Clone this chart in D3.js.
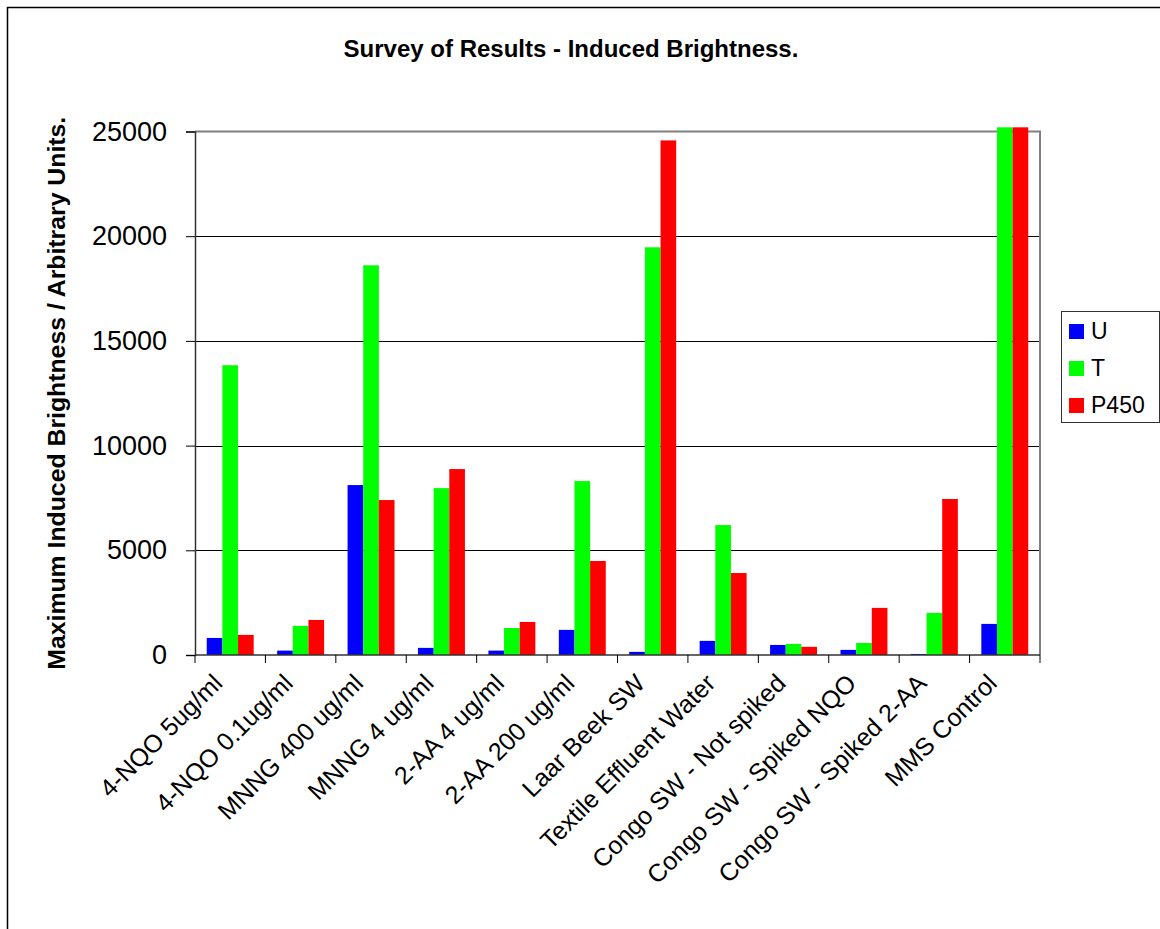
<!DOCTYPE html>
<html>
<head>
<meta charset="utf-8">
<script src="https://cdn.jsdelivr.net/npm/d3@7"></script>
<style>
  html, body { margin: 0; padding: 0; background: #fff; }
  svg { display: block; }
  text { font-family: "Liberation Sans", Arial, sans-serif; fill: #000; }
</style>
</head>
<body>
<svg id="chart" width="1160" height="929"></svg>
<script>
// Categories (samples) and series values
const categories = [
  "4-NQO 5ug/ml", "4-NQO 0.1ug/ml", "MNNG 400 ug/ml", "MNNG 4 ug/ml",
  "2-AA 4 ug/ml", "2-AA 200 ug/ml", "Laar Beek SW", "Textile Effluent Water",
  "Congo SW - Not spiked", "Congo SW - Spiked NQO", "Congo SW - Spiked 2-AA", "MMS Control"
];
const seriesNames = ["U", "T", "P450"];
const seriesColors = ["#0000FF", "#00FF00", "#FF0000"];
const valuesU    = [815, 210, 8115, 340, 210, 1200, 150, 675, 480, 245, 50, 1485];
const valuesT    = [13840, 1390, 18610, 7970, 1290, 8305, 19470, 6205, 530, 575, 2010, 25200];
const valuesP450 = [960, 1675, 7400, 8880, 1580, 4490, 24575, 3915, 390, 2250, 7450, 25200];
const yTicks = [0, 5000, 10000, 15000, 20000, 25000];

const titleText = "Survey of Results - Induced Brightness.";
const yTitleText = "Maximum Induced Brightness / Arbitrary Units.";

const seriesValues = [valuesU, valuesT, valuesP450];
const rows = categories.map((c, i) => ({
  category: c,
  values: seriesNames.map((s, j) => ({ series: s, value: seriesValues[j][i], color: seriesColors[j] }))
}));

const svg = d3.select("#chart");

// Outer chart frame
svg.append("rect")
  .attr("x", 7.5).attr("y", 7.5)
  .attr("width", 1170).attr("height", 940)
  .attr("fill", "none").attr("stroke", "#000").attr("stroke-width", 1.5);

const plot = { left: 195, right: 1040, top: 131.5, bottom: 655 };

const x0 = d3.scaleBand().domain(categories).range([plot.left, plot.right]).paddingInner(0).paddingOuter(0);
const x1 = d3.scaleBand().domain(seriesNames).range([0, x0.bandwidth()]).paddingInner(0).paddingOuter(0.75);
const y = d3.scaleLinear().domain([0, 25000]).range([plot.bottom, plot.top]);

// Gridlines
svg.append("g")
  .selectAll("line")
  .data(yTicks.filter(t => t > 0 && t < 25000))
  .join("line")
  .attr("x1", plot.left).attr("x2", plot.right)
  .attr("y1", d => Math.round(y(d)) + 0.5).attr("y2", d => Math.round(y(d)) + 0.5)
  .attr("stroke", "#000").attr("stroke-width", 1);

// Plot area frame (top and right)
svg.append("path")
  .attr("d", `M${plot.left},${plot.top}H${plot.right}V${plot.bottom}`)
  .attr("fill", "none").attr("stroke", "#808080").attr("stroke-width", 2);

// Bars
const groups = svg.append("g")
  .selectAll("g")
  .data(rows)
  .join("g")
  .attr("transform", d => `translate(${x0(d.category)},0)`);

groups.selectAll("rect")
  .data(d => d.values)
  .join("rect")
  .attr("x", d => x1(d.series))
  .attr("width", x1.bandwidth())
  .attr("y", d => y(d.value))
  .attr("height", d => y(0) - y(d.value))
  .attr("fill", d => d.color);

// Y axis
const yAxis = svg.append("g")
  .attr("transform", `translate(${plot.left},0)`)
  .call(d3.axisLeft(y).tickValues(yTicks).tickFormat(d3.format("d")).tickSize(9).tickPadding(19));
yAxis.select(".domain").attr("stroke", "#333").attr("stroke-width", 1.5);
yAxis.selectAll(".tick line").attr("stroke", "#000");
yAxis.selectAll(".tick text")
  .style("font-family", "'Liberation Sans', Arial, sans-serif")
  .style("font-size", "27px");

// X axis (ticks at category boundaries)
const xAxisG = svg.append("g").attr("transform", `translate(0,${plot.bottom})`);
xAxisG.append("line")
  .attr("x1", plot.left).attr("x2", plot.right)
  .attr("stroke", "#333").attr("stroke-width", 1.5);
const boundaries = categories.map(c => x0(c)).concat([plot.right]);
xAxisG.selectAll("line.tk")
  .data(boundaries)
  .join("line")
  .attr("class", "tk")
  .attr("x1", d => d).attr("x2", d => d)
  .attr("y1", 0).attr("y2", 8)
  .attr("stroke", "#000");

// Category labels, rotated
svg.append("g")
  .selectAll("text")
  .data(categories)
  .join("text")
  .attr("transform", d => `translate(${x0(d) + x0.bandwidth() / 2 - 19},${plot.bottom + 17}) rotate(-45)`)
  .attr("text-anchor", "end")
  .attr("dy", "0.72em")
  .style("font-size", "25px")
  .text(d => d);

// Title
svg.append("text")
  .attr("x", 571).attr("y", 57)
  .attr("text-anchor", "middle")
  .style("font-size", "24px").style("font-weight", "bold")
  .text(titleText);

// Y-axis title
svg.append("text")
  .attr("transform", `translate(65,${(plot.top + plot.bottom) / 2}) rotate(-90)`)
  .attr("text-anchor", "middle")
  .style("font-size", "24.8px").style("font-weight", "bold")
  .text(yTitleText);

// Legend
const legend = svg.append("g").attr("transform", "translate(1061,311)");
legend.append("rect")
  .attr("x", 0.5).attr("y", 0.5).attr("width", 98).attr("height", 111)
  .attr("fill", "#fff").attr("stroke", "#333").attr("stroke-width", 1);
const legendY = d3.scalePoint().domain(seriesNames).range([20, 94]);
const items = legend.selectAll("g.item")
  .data(seriesNames.map((s, i) => ({ s, c: seriesColors[i] })))
  .join("g").attr("class", "item")
  .attr("transform", d => `translate(0,${legendY(d.s)})`);
items.append("rect")
  .attr("x", 8).attr("y", -7).attr("width", 15).attr("height", 15)
  .attr("fill", d => d.c);
items.append("text")
  .attr("x", 30).attr("y", 0).attr("dy", "0.36em")
  .style("font-size", "23px")
  .text(d => d.s);
</script>
</body>
</html>
